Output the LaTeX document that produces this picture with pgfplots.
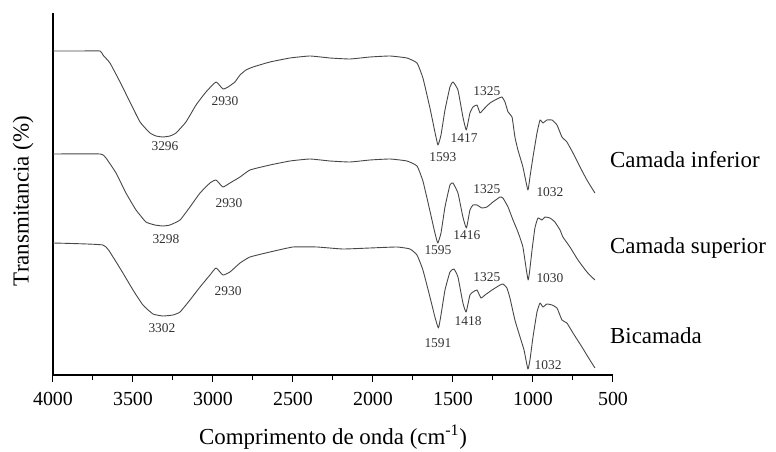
\documentclass[border=0pt]{standalone}
\usepackage{pgfplots}
\pgfplotsset{compat=1.18}
\usepackage{fontspec}
\setmainfont{Liberation Serif}
\begin{document}
\begin{tikzpicture}
\useasboundingbox (-53bp,-77bp) rectangle (723bp,375bp);
\begin{axis}[
  at={(0,0)}, anchor=south west,
  scale only axis, width=560bp, height=362bp,
  xmin=500, xmax=4000, ymin=0, ymax=362,
  x dir=reverse,
  axis x line*=bottom, axis y line*=left,
  axis line style={-, black, line width=1.1bp},
  xtick={500,1000,...,4000},
  extra x ticks={750,1250,1750,2250,2750,3250,3750},
  extra x tick labels={},
  extra x tick style={major tick length=5bp},
  ytick=\empty,
  tick align=outside,
  major tick length=7bp,
  tick style={black, line width=1bp},
  /pgf/number format/assume math mode=true,
  /pgf/number format/set thousands separator={},
  xticklabel style={font=\fontsize{20}{22}\selectfont, yshift=-7bp},
  clip=false,
]
% Camada inferior
\addplot[black!72, line width=0.9bp, line join=round, smooth, tension=0.25] coordinates {
(4000,324) (3831,324) (3706,324) (3688,320) (3644,312) (3581,293) (3519,273)
(3456,253) (3394,242) (3356,239) (3313,238) (3269,239) (3231,242) (3169,253)
(3106,270) (3044,283) (2981,293) (2938,286) (2906,288) (2863,293) (2831,300)
(2794,305) (2750,308) (2644,313) (2519,317) (2394,319) (2269,317) (2144,316)
(2019,318) (1894,319) (1788,317) (1725,312) (1688,297) (1644,267) (1613,243)
(1594,230) (1575,240) (1550,265) (1519,288) (1500,293) (1469,285) (1438,258)
(1417,245) (1394,262) (1375,268) (1350,270) (1331,262) (1313,265) (1269,272)
(1225,276) (1194,278) (1175,273) (1156,263) (1131,258) (1113,238) (1094,225)
(1063,208) (1032,185) (1019,198) (1000,218) (975,242) (956,255) (938,252)
(913,255) (881,255) (850,250) (819,238) (788,233) (750,222) (706,208)
(663,195) (613,182)
};
% Camada superior
\addplot[black!72, line width=0.9bp, line join=round, smooth, tension=0.25] coordinates {
(4000,221) (3706,221) (3669,217) (3606,202) (3544,182) (3481,165) (3419,153)
(3363,150) (3313,149) (3269,150) (3206,155) (3144,168) (3081,182) (3019,192)
(2981,195) (2938,188) (2894,192) (2831,198) (2769,205) (2644,210) (2519,214)
(2394,216) (2269,214) (2144,213) (2019,215) (1894,216) (1788,214) (1725,209)
(1688,194) (1644,164) (1613,142) (1595,132) (1575,142) (1550,168) (1519,190)
(1500,192) (1469,182) (1438,158) (1416,147) (1394,165) (1375,170) (1350,170)
(1319,167) (1288,168) (1250,173) (1206,178) (1188,177) (1156,168) (1125,155)
(1094,143) (1063,128) (1030,95) (1006,125) (988,147) (969,157) (944,155)
(925,158) (894,157) (863,153) (831,145) (813,138) (769,128) (719,115)
(663,103) (613,95)
};
% Bicamada
\addplot[black!72, line width=0.9bp, line join=round, smooth, tension=0.25] coordinates {
(4000,132) (3688,130) (3625,118) (3563,102) (3500,85) (3438,70) (3375,61)
(3313,59) (3250,60) (3206,63) (3144,75) (3081,88) (3019,100) (2981,107)
(2938,100) (2894,103) (2831,112) (2769,118) (2644,123) (2500,128) (2350,128)
(2188,126) (2019,127) (1850,128) (1769,126) (1725,120) (1688,105) (1644,78)
(1613,58) (1591,47) (1575,60) (1550,85) (1519,103) (1494,106) (1469,98)
(1438,72) (1418,63) (1394,80) (1375,83) (1350,85) (1325,77) (1300,80)
(1256,85) (1206,90) (1188,91) (1163,87) (1144,77) (1113,55) (1081,38)
(1056,25) (1032,6) (1019,15) (1000,38) (975,63) (956,72) (938,68) (913,71)
(881,70) (850,67) (819,55) (788,52) (750,42) (694,28) (656,18) (613,7)
};
\begin{scope}[every node/.style={font=\fontsize{13.5}{15}\selectfont, text=black!80, inner sep=0pt}]
\node at (axis cs:3300,229) {3296};
\node at (axis cs:2925,274) {2930};
\node at (axis cs:1563,218) {1593};
\node at (axis cs:1431,237) {1417};
\node at (axis cs:1288,284) {1325};
\node at (axis cs:894,183) {1032};
\node at (axis cs:3294,136) {3298};
\node at (axis cs:2900,172) {2930};
\node at (axis cs:1594,125) {1595};
\node at (axis cs:1413,140) {1416};
\node at (axis cs:1288,186) {1325};
\node at (axis cs:894,97) {1030};
\node at (axis cs:3319,47) {3302};
\node at (axis cs:2906,84) {2930};
\node at (axis cs:1594,32) {1591};
\node at (axis cs:1406,54) {1418};
\node at (axis cs:1288,98) {1325};
\node at (axis cs:906,10) {1032};
\end{scope}
\begin{scope}[every node/.style={font=\fontsize{23}{25}\selectfont, inner sep=0pt, anchor=west}]
\node at (axis cs:519,215) {Camada inferior};
\node at (axis cs:519,127) {Camada superior};
\node at (axis cs:519,39) {Bicamada};
\end{scope}
\end{axis}
\node[font=\fontsize{23}{25}\selectfont, inner sep=0pt] at (280bp,-62bp) {Comprimento de onda (cm\textsuperscript{-1})};
\node[font=\fontsize{23}{25}\selectfont, inner sep=0pt, rotate=90] at (-30bp,174bp) {Transmitancia (\%)};
\end{tikzpicture}
\end{document}
